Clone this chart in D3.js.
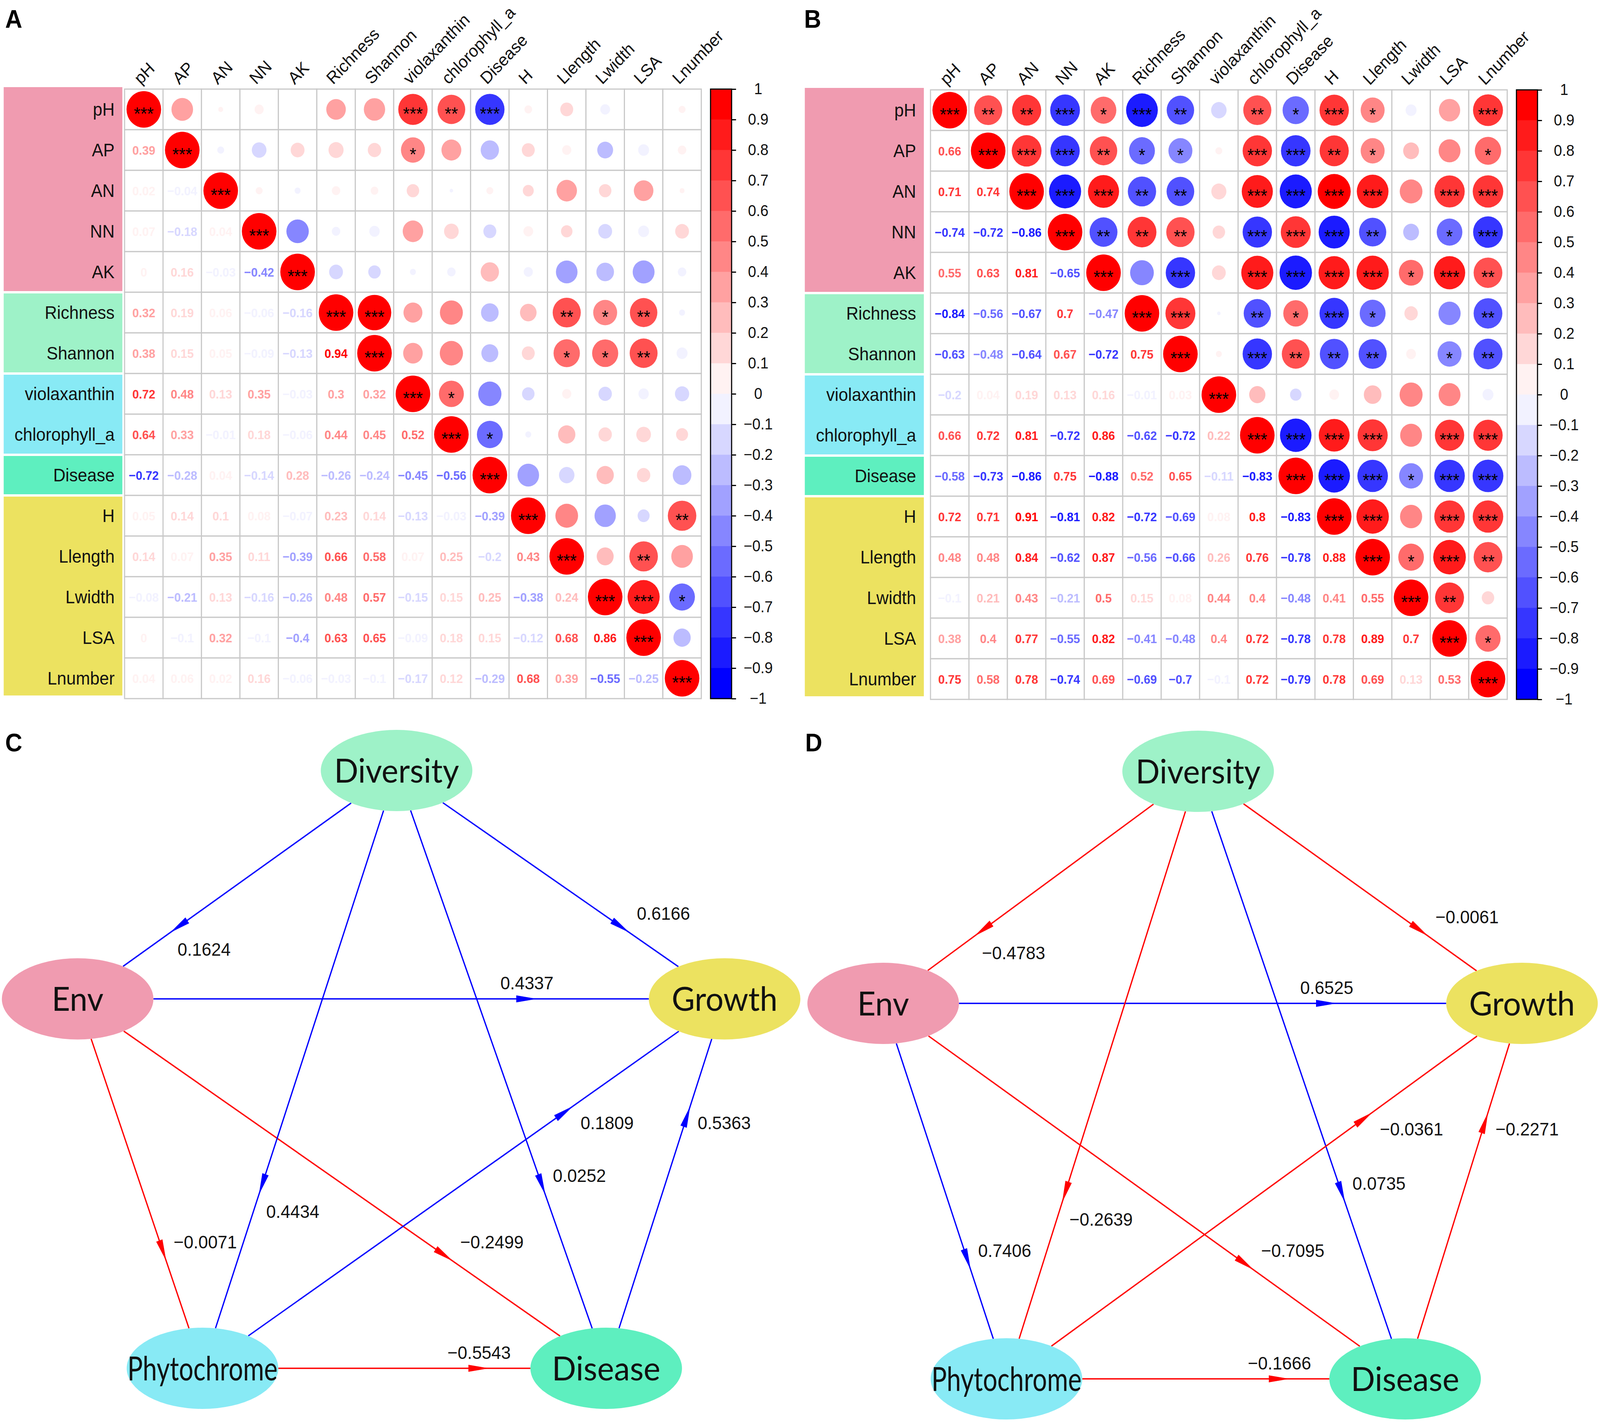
<!DOCTYPE html>
<html>
<head>
<meta charset="utf-8">
<script src="https://cdn.jsdelivr.net/npm/d3@7"></script>
<style>
  html, body { margin: 0; padding: 0; background: #fff; width: 100%; height: 100%; overflow: hidden; }
  svg { display: block; width: 100vw; height: 100vh; }
</style>
</head>
<body>
<svg id="fig" viewBox="0 0 4328 3642" preserveAspectRatio="none"></svg>
<script>

//--------------------------------------
// DATA
//--------------------------------------

const varNames = ["pH", "AP", "AN", "NN", "AK", "Richness", "Shannon", "violaxanthin",
  "chlorophyll_a", "Disease", "H", "Llength", "Lwidth", "LSA", "Lnumber"];

const varGroups = ["Env", "Env", "Env", "Env", "Env", "Diversity", "Diversity",
  "Phytochrome", "Phytochrome", "Disease", "Growth", "Growth", "Growth", "Growth", "Growth"];

// lower triangle, row i holds columns 0..i-1
const lowerA = [
  [],
  [0.39],
  [0.02, -0.04],
  [0.07, -0.18, 0.04],
  [0, 0.16, -0.03, -0.42],
  [0.32, 0.19, 0.06, -0.06, -0.16],
  [0.38, 0.15, 0.05, -0.09, -0.13, 0.94],
  [0.72, 0.48, 0.13, 0.35, -0.03, 0.3, 0.32],
  [0.64, 0.33, -0.01, 0.18, -0.06, 0.44, 0.45, 0.52],
  [-0.72, -0.28, 0.04, -0.14, 0.28, -0.26, -0.24, -0.45, -0.56],
  [0.05, 0.14, 0.1, 0.08, -0.07, 0.23, 0.14, -0.13, -0.03, -0.39],
  [0.14, 0.07, 0.35, 0.11, -0.39, 0.66, 0.58, 0.07, 0.25, -0.2, 0.43],
  [-0.08, -0.21, 0.13, -0.16, -0.26, 0.48, 0.57, -0.15, 0.15, 0.25, -0.38, 0.24],
  [0, -0.1, 0.32, -0.1, -0.4, 0.63, 0.65, -0.09, 0.18, 0.15, -0.12, 0.68, 0.86],
  [0.04, 0.06, 0.02, 0.16, -0.06, -0.03, -0.1, -0.17, 0.12, -0.29, 0.68, 0.39, -0.55, -0.25]
];

// upper triangle stars, row i holds columns i+1..14
const starsA = [
  ["", "", "", "", "", "", "***", "**", "***", "", "", "", "", ""],
  ["", "", "", "", "", "*", "", "", "", "", "", "", ""],
  ["", "", "", "", "", "", "", "", "", "", "", ""],
  ["", "", "", "", "", "", "", "", "", "", ""],
  ["", "", "", "", "", "", "", "", "", ""],
  ["***", "", "", "", "", "**", "*", "**", ""],
  ["", "", "", "", "*", "*", "**", ""],
  ["*", "", "", "", "", "", ""],
  ["*", "", "", "", "", ""],
  ["", "", "", "", ""],
  ["", "", "", "**"],
  ["", "**", ""],
  ["***", "*"],
  [""],
  []
];

const lowerB = [
  [],
  [0.66],
  [0.71, 0.74],
  [-0.74, -0.72, -0.86],
  [0.55, 0.63, 0.81, -0.65],
  [-0.84, -0.56, -0.67, 0.7, -0.47],
  [-0.63, -0.48, -0.64, 0.67, -0.72, 0.75],
  [-0.2, 0.04, 0.19, 0.13, 0.16, -0.01, 0.03],
  [0.66, 0.72, 0.81, -0.72, 0.86, -0.62, -0.72, 0.22],
  [-0.58, -0.73, -0.86, 0.75, -0.88, 0.52, 0.65, -0.11, -0.83],
  [0.72, 0.71, 0.91, -0.81, 0.82, -0.72, -0.69, 0.08, 0.8, -0.83],
  [0.48, 0.48, 0.84, -0.62, 0.87, -0.56, -0.66, 0.26, 0.76, -0.78, 0.88],
  [-0.1, 0.21, 0.43, -0.21, 0.5, 0.15, 0.08, 0.44, 0.4, -0.48, 0.41, 0.55],
  [0.38, 0.4, 0.77, -0.55, 0.82, -0.41, -0.48, 0.4, 0.72, -0.78, 0.78, 0.89, 0.7],
  [0.75, 0.58, 0.78, -0.74, 0.69, -0.69, -0.7, -0.1, 0.72, -0.79, 0.78, 0.69, 0.13, 0.53]
];

const starsB = [
  ["**", "**", "***", "*", "***", "**", "", "**", "*", "***", "*", "", "", "***"],
  ["***", "***", "**", "*", "*", "", "***", "***", "**", "*", "", "", "*"],
  ["***", "***", "**", "**", "", "***", "***", "***", "***", "", "***", "***"],
  ["**", "**", "**", "", "***", "***", "***", "**", "", "*", "***"],
  ["", "***", "", "***", "***", "***", "***", "*", "***", "**"],
  ["***", "", "**", "*", "***", "*", "", "", "**"],
  ["", "***", "**", "**", "**", "", "*", "**"],
  ["", "", "", "", "", "", ""],
  ["***", "***", "***", "", "***", "***"],
  ["***", "***", "*", "***", "***"],
  ["***", "", "***", "***"],
  ["*", "***", "**"],
  ["**", ""],
  ["*"],
  []
];

const colourTicks = [1, 0.9, 0.8, 0.7, 0.6, 0.5, 0.4, 0.3, 0.2, 0.1, 0,
  -0.1, -0.2, -0.3, -0.4, -0.5, -0.6, -0.7, -0.8, -0.9, -1];

const pathFrom = ["Diversity", "Diversity", "Env", "Env", "Env", "Diversity", "Diversity", "Phytochrome", "Disease", "Phytochrome"];
const pathTo   = ["Env", "Growth", "Growth", "Phytochrome", "Disease", "Phytochrome", "Disease", "Growth", "Growth", "Disease"];
const pathCoefC = [0.1624, 0.6166, 0.4337, -0.0071, -0.2499, 0.4434, 0.0252, 0.1809, 0.5363, -0.5543];
const pathCoefD = [-0.4783, -0.0061, 0.6525, 0.7406, -0.7095, -0.2639, 0.0735, -0.0361, -0.2271, -0.1666];


//--------------------------------------
// LAYOUT / STYLE
//--------------------------------------

const fontFamily = "'Liberation Sans', Arial, Helvetica, sans-serif";

const groupColour = {
  Env: "#f09bb0",
  Diversity: "#9ef2c8",
  Phytochrome: "#88eaf5",
  Disease: "#5eefbf",
  Growth: "#ece260"
};

// relative node placement inside a path panel
const nodeX = { Env: 0, Phytochrome: 0.193, Diversity: 0.493, Disease: 0.817, Growth: 1 };
const nodeY = { Diversity: 0, Env: 0.382, Growth: 0.382, Phytochrome: 1, Disease: 1 };

const ramp = d3.scaleLinear().domain([0, 0.5, 1]).range(["#0000ff", "#ffffff", "#ff0000"]);
const colourScale = d3.scaleQuantize().domain([-1, 1]).range(d3.range(20).map(function(i) { return ramp(i / 19); }));

const svg = d3.select("#fig");
svg.append("rect").attr("width", 4328).attr("height", 3642).attr("fill", "#fff");


//--------------------------------------
// CORRELATION PANEL
//--------------------------------------

function CorrPanel_CTRL(svg, cfg) {

  this.svg = svg;
  this.cfg = cfg;
  this.n = varNames.length;
  this.g = svg.append("g");

  this.x = d3.scaleBand().domain(varNames).range([cfg.x0, cfg.x0 + this.n * cfg.cell]);
  this.y = d3.scaleBand().domain(varNames).range([cfg.y0, cfg.y0 + this.n * cfg.cell]);
  this.rScale = d3.scaleSqrt().domain([0, 1]).range([0, 0.45 * cfg.cell]);

  _buildCells.call(this);
  _drawBoxes.call(this);
  _drawGrid.call(this);
  _drawColourBar.call(this);

}


function _buildCells() {

  var lower = this.cfg.lower, stars = this.cfg.stars;
  this.cells = [];

  for (var i = 0; i < this.n; i++) {
    for (var j = 0; j < this.n; j++) {
      var r = i === j ? 1 : (i > j ? lower[i][j] : lower[j][i]);
      var star = i === j ? "***" : (j > i ? stars[i][j - i - 1] : "");
      this.cells.push({ row: varNames[i], col: varNames[j], r: r, star: star, upper: j >= i });
    }
  }

}


function _drawBoxes() {

  var _self = this, cfg = this.cfg, runs = [];

  varGroups.forEach(function(gname, i) {
    if (runs.length && runs[runs.length - 1].group === gname) runs[runs.length - 1].last = i;
    else runs.push({ group: gname, first: i, last: i });
  });

  this.g.selectAll("rect.box").data(runs).join("rect")
    .attr("class", "box")
    .attr("x", cfg.boxX0)
    .attr("width", cfg.boxX1 - cfg.boxX0)
    .attr("y", function(d, k) { return _self.y(varNames[d.first]) + (k === 0 ? -5 : 3); })
    .attr("height", function(d, k) {
      var top = _self.y(varNames[d.first]) + (k === 0 ? -5 : 3);
      var bottom = _self.y(varNames[d.last]) + cfg.cell - (k === runs.length - 1 ? 8 : 3);
      return bottom - top;
    })
    .attr("fill", function(d) { return groupColour[d.group]; });

  this.g.selectAll("text.rowlab").data(varNames).join("text")
    .attr("class", "rowlab")
    .attr("x", cfg.labelX)
    .attr("y", function(d) { return _self.y(d) + cfg.cell / 2 + 16; })
    .attr("text-anchor", "end")
    .attr("font-family", fontFamily)
    .attr("font-size", 46)
    .attr("fill", "#111")
    .text(function(d) { return d; });

  this.g.selectAll("text.collab").data(varNames).join("text")
    .attr("class", "collab")
    .attr("transform", function(d) {
      return "translate(" + (_self.x(d) + cfg.cell / 2 - 8) + "," + (cfg.y0 - 10) + ") rotate(-45)";
    })
    .attr("font-family", fontFamily)
    .attr("font-size", 44)
    .attr("fill", "#111")
    .text(function(d) { return d; });

  this.g.append("text")
    .attr("x", cfg.letterX)
    .attr("y", 71)
    .attr("font-family", fontFamily)
    .attr("font-weight", "bold")
    .attr("font-size", 64)
    .text(cfg.letter);

}


function _drawGrid() {

  var _self = this, cell = this.cfg.cell;
  var fmt = d3.format("~g");

  this.g.selectAll("rect.cell").data(this.cells).join("rect")
    .attr("class", "cell")
    .attr("x", function(d) { return _self.x(d.col); })
    .attr("y", function(d) { return _self.y(d.row); })
    .attr("width", cell)
    .attr("height", cell)
    .attr("fill", "#fff")
    .attr("stroke", "#c8c8c8")
    .attr("stroke-width", 3);

  var upper = this.cells.filter(function(d) { return d.upper; });
  var lower = this.cells.filter(function(d) { return !d.upper; });

  this.g.selectAll("circle.corr").data(upper).join("circle")
    .attr("class", "corr")
    .attr("cx", function(d) { return _self.x(d.col) + cell / 2; })
    .attr("cy", function(d) { return _self.y(d.row) + cell / 2; })
    .attr("r", function(d) { return _self.rScale(Math.abs(d.r)); })
    .attr("fill", function(d) { return colourScale(d.r); });

  this.g.selectAll("text.star").data(upper.filter(function(d) { return d.star; })).join("text")
    .attr("class", "star")
    .attr("x", function(d) { return _self.x(d.col) + cell / 2; })
    .attr("y", function(d) { return _self.y(d.row) + cell / 2 + 27; })
    .attr("text-anchor", "middle")
    .attr("font-family", fontFamily)
    .attr("font-size", 46)
    .attr("fill", "#000")
    .text(function(d) { return d.star; });

  this.g.selectAll("text.num").data(lower).join("text")
    .attr("class", "num")
    .attr("x", function(d) { return _self.x(d.col) + cell / 2; })
    .attr("y", function(d) { return _self.y(d.row) + cell / 2 + 12; })
    .attr("text-anchor", "middle")
    .attr("font-family", fontFamily)
    .attr("font-weight", "bold")
    .attr("font-size", 32)
    .attr("fill", function(d) { return colourScale(d.r); })
    .text(function(d) { return fmt(d.r); });

}


function _drawColourBar() {

  var cfg = this.cfg, barW = 57;
  var barY = d3.scaleLinear().domain([-1, 1]).range([cfg.y0 + this.n * cfg.cell, cfg.y0]);
  var bins = colourTicks.filter(function(v) { return v < 1; });

  this.g.selectAll("rect.bin").data(bins).join("rect")
    .attr("class", "bin")
    .attr("x", cfg.barX)
    .attr("width", barW)
    .attr("y", function(v) { return barY(v + 0.1); })
    .attr("height", function(v) { return barY(v) - barY(v + 0.1); })
    .attr("fill", function(v) { return colourScale(v + 0.05); })
    .attr("stroke", function(v) { return colourScale(v + 0.05); })
    .attr("stroke-width", 0.5);

  this.g.append("rect")
    .attr("x", cfg.barX)
    .attr("y", barY(1))
    .attr("width", barW)
    .attr("height", barY(-1) - barY(1))
    .attr("fill", "none")
    .attr("stroke", "#000")
    .attr("stroke-width", 3);

  var axis = this.g.append("g")
    .attr("transform", "translate(" + (cfg.barX + barW) + ",0)")
    .call(d3.axisRight(barY).tickValues(colourTicks).tickSize(12).tickFormat(d3.format("~g")));

  axis.attr("font-family", fontFamily).attr("font-size", 40);
  axis.select(".domain").remove();
  axis.selectAll(".tick line").attr("stroke", "#000").attr("stroke-width", 3);
  axis.selectAll(".tick text").attr("x", 72).attr("text-anchor", "middle").attr("fill", "#111");

}


//--------------------------------------
// PATH PANEL
//--------------------------------------

function PathPanel_CTRL(svg, cfg) {

  this.svg = svg;
  this.cfg = cfg;
  this.g = svg.append("g");
  this.rx = 205;
  this.ry = 104;

  this.sx = d3.scaleLinear().domain([0, 1]).range(cfg.xRange);
  this.sy = d3.scaleLinear().domain([0, 1]).range(cfg.yRange);

  _buildEdges.call(this);
  _drawEdges.call(this);
  _drawNodes.call(this);

}


function _buildEdges() {

  var _self = this;

  this.edges = pathFrom.map(function(from, i) {
    var to = pathTo[i];
    var ax = _self.sx(nodeX[from]), ay = _self.sy(nodeY[from]);
    var bx = _self.sx(nodeX[to]), by = _self.sy(nodeY[to]);
    var dx = bx - ax, dy = by - ay;
    var t = 1 / Math.hypot(dx / _self.rx, dy / _self.ry);
    return {
      coef: _self.cfg.coef[i],
      x1: ax + t * dx, y1: ay + t * dy,
      x2: bx - t * dx, y2: by - t * dy,
      tx: ax + 0.71 * dx, ty: ay + 0.71 * dy,
      dx: dx, dy: dy,
      angle: Math.atan2(dy, dx) * 180 / Math.PI
    };
  });

}


function _drawEdges() {

  var fmt = d3.format(".4f");
  var col = function(d) { return d.coef < 0 ? "#ff0000" : "#0000ff"; };

  this.g.selectAll("line.edge").data(this.edges).join("line")
    .attr("class", "edge")
    .attr("x1", function(d) { return d.x1; })
    .attr("y1", function(d) { return d.y1; })
    .attr("x2", function(d) { return d.x2; })
    .attr("y2", function(d) { return d.y2; })
    .attr("stroke", col)
    .attr("stroke-width", 3.5);

  this.g.selectAll("path.arrow").data(this.edges).join("path")
    .attr("class", "arrow")
    .attr("d", "M0,0L-56,-9L-56,9Z")
    .attr("transform", function(d) { return "translate(" + d.tx + "," + d.ty + ") rotate(" + d.angle + ")"; })
    .attr("fill", col);

  this.g.selectAll("text.coef").data(this.edges).join("text")
    .attr("class", "coef")
    .attr("x", function(d) { return Math.abs(d.dy) < 1 ? d.tx - 27 : d.tx + 20; })
    .attr("y", function(d) {
      if (Math.abs(d.dy) < 1) return d.ty - 41 + 17;
      return d.ty + (d.dy / d.dx > 0 ? -50 : 42) + 17;
    })
    .attr("text-anchor", function(d) { return Math.abs(d.dy) < 1 ? "middle" : "start"; })
    .attr("font-family", fontFamily)
    .attr("font-size", 47)
    .attr("fill", "#111")
    .text(function(d) { return fmt(d.coef); });

  this.g.append("text")
    .attr("x", this.cfg.letterX)
    .attr("y", 1923)
    .attr("font-family", fontFamily)
    .attr("font-weight", "bold")
    .attr("font-size", 64)
    .text(this.cfg.letter);

}


function _drawNodes() {

  var _self = this;
  var names = Object.keys(nodeX);

  var node = this.g.selectAll("g.node").data(names).join("g")
    .attr("class", "node")
    .attr("transform", function(d) { return "translate(" + _self.sx(nodeX[d]) + "," + _self.sy(nodeY[d]) + ")"; });

  node.append("ellipse")
    .attr("rx", this.rx)
    .attr("ry", this.ry)
    .attr("fill", function(d) { return groupColour[d]; });

  node.append("text")
    .attr("text-anchor", "middle")
    .attr("dy", "0.36em")
    .attr("font-family", "Lato, 'Open Sans', sans-serif")
    .attr("font-size", 86)
    .attr("fill", "#111")
    .text(function(d) { return d; })
    .each(function() {
      // squeeze labels that are wider than the node
      if (this.getComputedTextLength() > 2 * _self.rx) {
        d3.select(this).attr("textLength", 2 * _self.rx - 4).attr("lengthAdjust", "spacingAndGlyphs");
      }
    });

}


//--------------------------------------
// BUILD
//--------------------------------------

new CorrPanel_CTRL(svg, { letter: "A", letterX: 14, x0: 337, y0: 228, cell: 104,
  boxX0: 10, boxX1: 331, labelX: 310, barX: 1922, lower: lowerA, stars: starsA });

new CorrPanel_CTRL(svg, { letter: "B", letterX: 2175, x0: 2517, y0: 230, cell: 104,
  boxX0: 2177, boxX1: 2499, labelX: 2478, barX: 4102, lower: lowerB, stars: starsB });

new PathPanel_CTRL(svg, { letter: "C", letterX: 14, xRange: [210, 1960], yRange: [1972, 3502], coef: pathCoefC });

new PathPanel_CTRL(svg, { letter: "D", letterX: 2178, xRange: [2389, 4117], yRange: [1974, 3529], coef: pathCoefD });

</script>
</body>
</html>
